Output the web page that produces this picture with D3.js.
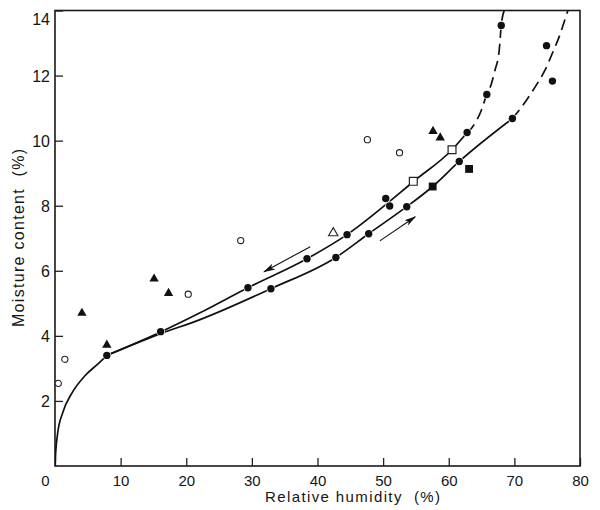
<!DOCTYPE html>
<html>
<head>
<meta charset="utf-8">
<script src="https://cdn.jsdelivr.net/npm/d3@7/dist/d3.min.js"></script>
<style>
  body { margin: 0; background: #fff; }
  text { font-family: "Liberation Sans", Arial, sans-serif; fill: #151515; }
</style>
</head>
<body>
<div id="vis"></div>
<script>

// values: [relative humidity %, moisture content %]
var filledCircles = [[7.9,3.4],[16.1,4.13],[29.4,5.48],[32.9,5.45],[38.4,6.37],[42.8,6.41],[44.5,7.11],
    [47.8,7.14],[50.4,8.22],[51.0,7.99],[53.6,7.97],[61.6,9.36],[62.8,10.25],[65.8,11.42],[68.0,13.54],
    [69.7,10.68],[74.9,12.92],[75.8,11.83]];
var filledTriangles = [[4.1,4.7],[15.1,5.75],[17.3,5.31],[57.6,10.29],[58.7,10.09],[7.9,3.72]];
var openCircles = [[0.5,2.54],[1.5,3.28],[20.3,5.28],[28.3,6.93],[47.6,10.03],[52.5,9.63]];
var openTriangles = [[42.4,7.16]];
var openSquares = [[54.6,8.75],[60.5,9.72]];
var filledSquares = [[57.55,8.59],[63.1,9.13]];

// curves
var startCurve = [[0,0],[0.1,0.4],[0.4,1.0],[1.2,1.65],[2.6,2.25],[4.6,2.78],[6.6,3.15],[7.9,3.4]];
var desorbSolid = [[7.9,3.4],[16.1,4.12],[22.1,4.71],[29.4,5.48],[38.4,6.37],[44.5,7.11],[52.6,8.4],
    [54.6,8.74],[60.5,9.72],[62.8,10.25]];
var desorbDashed = [[62.8,10.25],[63.5,10.39],[65.0,10.95],[65.8,11.42],[66.3,11.63],[67.0,12.13],
    [67.7,12.8],[68.0,13.54],[68.5,14.03]];
var adsorbSolid = [[7.9,3.4],[16.1,4.07],[22.1,4.5],[32.9,5.45],[42.8,6.41],[47.8,7.14],[53.6,7.97],
    [57.55,8.59],[61.6,9.36],[69.7,10.68]];
var adsorbDashed = [[69.7,10.68],[71.6,11.17],[73.1,11.63],[74.7,12.18],[75.9,12.74],[76.95,13.26],
    [77.7,13.72],[78.3,14.09]];

// direction arrows [from, to]
var arrowDown = [[38.9,6.74],[31.85,5.97]];
var arrowUp = [[49.5,6.92],[54.9,7.66]];

var xTicks = [0,10,20,30,40,50,60,70,80];
var yTicks = [2,4,6,8,10,12,14];

var margin = { top: 10.5, right: 20, bottom: 44, left: 55 };
var w = 600 - margin.left - margin.right;
var h = 510 - margin.top - margin.bottom;

var svg = d3.select('#vis').append('svg')
    .attr('width', 600)
    .attr('height', 510);

var g = svg.append('g')
    .attr('transform', 'translate(' + margin.left + ',' + margin.top + ')');

var x = d3.scaleLinear().domain([0, 80]).range([0, w]);
var y = d3.scaleLinear().domain([0, 14]).range([h, 0]);

svg.append('defs').append('clipPath').attr('id', 'plotclip')
    .append('rect').attr('x', 0).attr('y', 0).attr('width', w).attr('height', h);

svg.select('defs').append('marker')
    .attr('id', 'head')
    .attr('viewBox', '0 0 12 8')
    .attr('refX', 11).attr('refY', 4)
    .attr('markerWidth', 12).attr('markerHeight', 8)
    .attr('markerUnits', 'userSpaceOnUse')
    .attr('orient', 'auto')
    .append('path').attr('d', 'M0,0.8 L12,4 L0,7.2 L3,4 Z').attr('fill', '#111');

// axes (ticks point inwards)
var xAxis = g.append('g')
    .attr('transform', 'translate(0,' + h + ')')
    .call(d3.axisBottom(x).tickValues(xTicks).tickSize(-8).tickPadding(6));
xAxis.select('.domain').remove();
xAxis.selectAll('line').attr('stroke', '#222').attr('stroke-width', 1.3);
xAxis.selectAll('text').attr('font-size', 15).attr('dy', '0.9em')
    .attr('dx', function (d) { return d === 0 ? -10 : 0; });

var yAxis = g.append('g')
    .call(d3.axisLeft(y).tickValues(yTicks).tickSize(-8).tickPadding(5));
yAxis.select('.domain').remove();
yAxis.selectAll('line').attr('stroke', '#222').attr('stroke-width', 1.3);
yAxis.selectAll('text').attr('font-size', 16)
    .attr('dy', function (d) { return d === 14 ? '0.9em' : '0.35em'; });

// frame
g.append('rect')
    .attr('x', 0).attr('y', 0).attr('width', w).attr('height', h)
    .attr('fill', 'none').attr('stroke', '#1a1a1a').attr('stroke-width', 1.6);

// axis titles
svg.append('text')
    .attr('x', 265).attr('y', 502)
    .attr('font-size', 15)
    .attr('textLength', 175).attr('lengthAdjust', 'spacing')
    .attr('xml:space', 'preserve')
    .text('Relative humidity  (%)');

svg.append('text')
    .attr('transform', 'translate(24,327) rotate(-90)')
    .attr('font-size', 16)
    .attr('textLength', 178).attr('lengthAdjust', 'spacing')
    .attr('xml:space', 'preserve')
    .text('Moisture content  (%)');

// curves
var line = d3.line()
    .x(function (d) { return x(d[0]); })
    .y(function (d) { return y(d[1]); })
    .curve(d3.curveMonotoneX);

var curves = g.append('g').attr('clip-path', 'url(#plotclip)')
    .attr('fill', 'none').attr('stroke', '#111').attr('stroke-width', 1.7);

curves.append('path').attr('d', line(startCurve));
curves.append('path').attr('d', line(desorbSolid));
curves.append('path').attr('d', line(adsorbSolid));
curves.append('path').attr('d', line(desorbDashed)).attr('stroke-dasharray', '11,6');
curves.append('path').attr('d', line(adsorbDashed)).attr('stroke-dasharray', '11,6');

// arrows
[arrowDown, arrowUp].forEach(function (a) {
    g.append('line')
        .attr('x1', x(a[0][0])).attr('y1', y(a[0][1]))
        .attr('x2', x(a[1][0])).attr('y2', y(a[1][1]))
        .attr('stroke', '#111').attr('stroke-width', 1.1)
        .attr('marker-end', 'url(#head)');
});

// points
var pts = g.append('g');

pts.selectAll('.fc')
    .data(filledCircles)
    .enter().append('circle')
    .attr('class', 'fc')
    .attr('cx', function (d) { return x(d[0]); })
    .attr('cy', function (d) { return y(d[1]); })
    .attr('r', 3.7)
    .attr('fill', '#111')
    .attr('stroke', '#fff').attr('stroke-width', 1.6)
    .attr('paint-order', 'stroke');

pts.selectAll('.oc')
    .data(openCircles)
    .enter().append('circle')
    .attr('class', 'oc')
    .attr('cx', function (d) { return x(d[0]); })
    .attr('cy', function (d) { return y(d[1]); })
    .attr('r', 3.1)
    .attr('fill', '#fff')
    .attr('stroke', '#222').attr('stroke-width', 1.1);

var tri = d3.symbol().type(d3.symbolTriangle).size(38);
var sq = d3.symbol().type(d3.symbolSquare).size(62);

pts.selectAll('.ft')
    .data(filledTriangles)
    .enter().append('path')
    .attr('class', 'ft')
    .attr('d', tri)
    .attr('transform', function (d) { return 'translate(' + x(d[0]) + ',' + y(d[1]) + ')'; })
    .attr('fill', '#111');

pts.selectAll('.ot')
    .data(openTriangles)
    .enter().append('path')
    .attr('class', 'ot')
    .attr('d', tri)
    .attr('transform', function (d) { return 'translate(' + x(d[0]) + ',' + y(d[1]) + ')'; })
    .attr('fill', '#fff').attr('stroke', '#222').attr('stroke-width', 1.1);

pts.selectAll('.os')
    .data(openSquares)
    .enter().append('path')
    .attr('class', 'os')
    .attr('d', sq)
    .attr('transform', function (d) { return 'translate(' + x(d[0]) + ',' + y(d[1]) + ')'; })
    .attr('fill', '#fff').attr('stroke', '#222').attr('stroke-width', 1.2);

pts.selectAll('.fs')
    .data(filledSquares)
    .enter().append('path')
    .attr('class', 'fs')
    .attr('d', sq)
    .attr('transform', function (d) { return 'translate(' + x(d[0]) + ',' + y(d[1]) + ')'; })
    .attr('fill', '#111');

</script>
</body>
</html>
